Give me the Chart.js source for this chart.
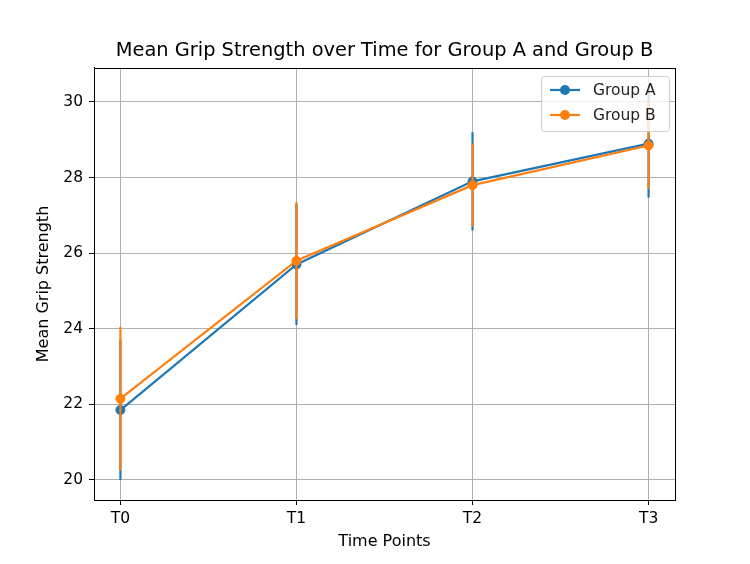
<!DOCTYPE html>
<html>
<head>
<meta charset="utf-8">
<script src="https://cdn.jsdelivr.net/npm/chart.js@4.4.1/dist/chart.umd.min.js"></script>
<style>
  body { margin: 0; background: #fff; }
  #wrap { width: 750px; height: 564px; }
</style>
</head>
<body>
<div id="wrap"><canvas id="gripChart" width="750" height="564"></canvas></div>
<script>
// data
const timePoints = ['T0', 'T1', 'T2', 'T3'];
const groupAMean = [21.85, 25.7, 27.9, 28.9];
const groupAErr = [1.85, 1.6, 1.3, 1.43];
const groupBMean = [22.15, 25.8, 27.8, 28.85];
const groupBErr = [1.9, 1.55, 1.1, 1.15];
const yTickValues = [20, 22, 24, 26, 28, 30];

const BLUE = '#1f77b4';
const ORANGE = '#ff7f0e';
const FONT = 'DejaVu Sans';

// vertical error bars, drawn just before each dataset's line
const errorBars = {
    id: 'errorBars',
    beforeDatasetDraw(chart, args) {
        const ds = chart.data.datasets[args.index];
        const x = chart.scales.x, y = chart.scales.y;
        const ctx = chart.ctx;
        ctx.save();
        ctx.strokeStyle = ds.borderColor;
        ctx.lineWidth = 2.2;
        ds.data.forEach((pt, i) => {
            const px = x.getPixelForValue(pt.x);
            ctx.beginPath();
            ctx.moveTo(px, y.getPixelForValue(pt.y - ds.errors[i]));
            ctx.lineTo(px, y.getPixelForValue(pt.y + ds.errors[i]));
            ctx.stroke();
        });
        ctx.restore();
    }
};

// top/right spines
const frame = {
    id: 'frame',
    afterDatasetsDraw(chart) {
        const { ctx, chartArea: a } = chart;
        ctx.save();
        ctx.strokeStyle = '#000';
        ctx.lineWidth = 1;
        ctx.strokeRect(Math.round(a.left) + 0.5, Math.round(a.top) + 0.5,
            Math.round(a.right - a.left), Math.round(a.bottom - a.top));
        ctx.restore();
    }
};

// matplotlib-like legend box in the upper right corner
const boxLegend = {
    id: 'boxLegend',
    afterDraw(chart) {
        const { ctx, chartArea: a } = chart;
        const w = 128, h = 55;
        const bx = a.right - w - 6, by = a.top + 8;
        ctx.save();
        ctx.beginPath();
        ctx.roundRect(bx + 0.5, by + 0.5, w, h, 3);
        ctx.fillStyle = 'rgba(255,255,255,0.8)';
        ctx.fill();
        ctx.strokeStyle = '#d0d0d0';
        ctx.lineWidth = 1;
        ctx.stroke();
        ctx.font = '15.5px "' + FONT + '"';
        ctx.textBaseline = 'middle';
        chart.data.datasets.forEach((ds, i) => {
            const cy = by + 14 + i * 25;
            ctx.strokeStyle = ds.borderColor;
            ctx.lineWidth = 2.2;
            ctx.beginPath();
            ctx.moveTo(bx + 9, cy);
            ctx.lineTo(bx + 39, cy);
            ctx.stroke();
            ctx.beginPath();
            ctx.arc(bx + 24, cy, 5, 0, Math.PI * 2);
            ctx.fillStyle = ds.borderColor;
            ctx.fill();
            ctx.fillStyle = '#222';
            ctx.fillText(ds.label, bx + 52, cy + 1);
        });
        ctx.restore();
    }
};

function toPoints(values) {
    return values.map((v, i) => ({ x: i, y: v }));
}

const ctx = document.getElementById('gripChart').getContext('2d');
new Chart(ctx, {
    type: 'line',
    data: {
        datasets: [{
            label: 'Group A',
            data: toPoints(groupAMean),
            errors: groupAErr,
            borderColor: BLUE,
            backgroundColor: BLUE,
            borderWidth: 2.2,
            pointRadius: 4.5,
            pointBorderWidth: 1,
            pointBackgroundColor: BLUE,
            order: 2
        }, {
            label: 'Group B',
            data: toPoints(groupBMean),
            errors: groupBErr,
            borderColor: ORANGE,
            backgroundColor: ORANGE,
            borderWidth: 2.2,
            pointRadius: 4.5,
            pointBorderWidth: 1,
            pointBackgroundColor: ORANGE,
            order: 1
        }]
    },
    options: {
        responsive: false,
        animation: false,
        layout: { padding: { left: 0, right: 75, top: 0, bottom: 0 } },
        plugins: {
            legend: { display: false },
            tooltip: { enabled: false },
            title: {
                display: true,
                fullSize: false,
                text: 'Mean Grip Strength over Time for Group A and Group B',
                color: '#000',
                font: { family: FONT, size: 19.4, weight: 'normal', lineHeight: 1.2 },
                padding: { top: 39.5, bottom: 5.2 }
            }
        },
        scales: {
            x: {
                type: 'linear',
                min: -0.15,
                max: 3.15,
                afterBuildTicks: s => { s.ticks = timePoints.map((t, i) => ({ value: i })); },
                afterFit: s => { s.height = 64; },
                ticks: {
                    color: '#000',
                    font: { family: FONT, size: 15.5 },
                    padding: 5,
                    maxRotation: 0,
                    callback: v => timePoints[v]
                },
                grid: { color: '#b0b0b0', lineWidth: 1, tickColor: '#000', tickLength: 5 },
                border: { color: '#000', width: 1 },
                title: {
                    display: true,
                    text: 'Time Points',
                    color: '#000',
                    font: { family: FONT, size: 16 },
                    padding: { top: 0, bottom: 12.4 }
                }
            },
            y: {
                min: 19.47,
                max: 30.9,
                afterBuildTicks: s => { s.ticks = yTickValues.map(v => ({ value: v })); },
                afterFit: s => { s.width = 94; },
                ticks: {
                    color: '#000',
                    font: { family: FONT, size: 15.5 },
                    padding: 6
                },
                grid: { color: '#b0b0b0', lineWidth: 1, tickColor: '#000', tickLength: 5 },
                border: { color: '#000', width: 1 },
                title: {
                    display: true,
                    text: 'Mean Grip Strength',
                    color: '#000',
                    font: { family: FONT, size: 16 },
                    padding: { top: 34.4, bottom: 0 }
                }
            }
        }
    },
    plugins: [errorBars, frame, boxLegend]
});
</script>
</body>
</html>
